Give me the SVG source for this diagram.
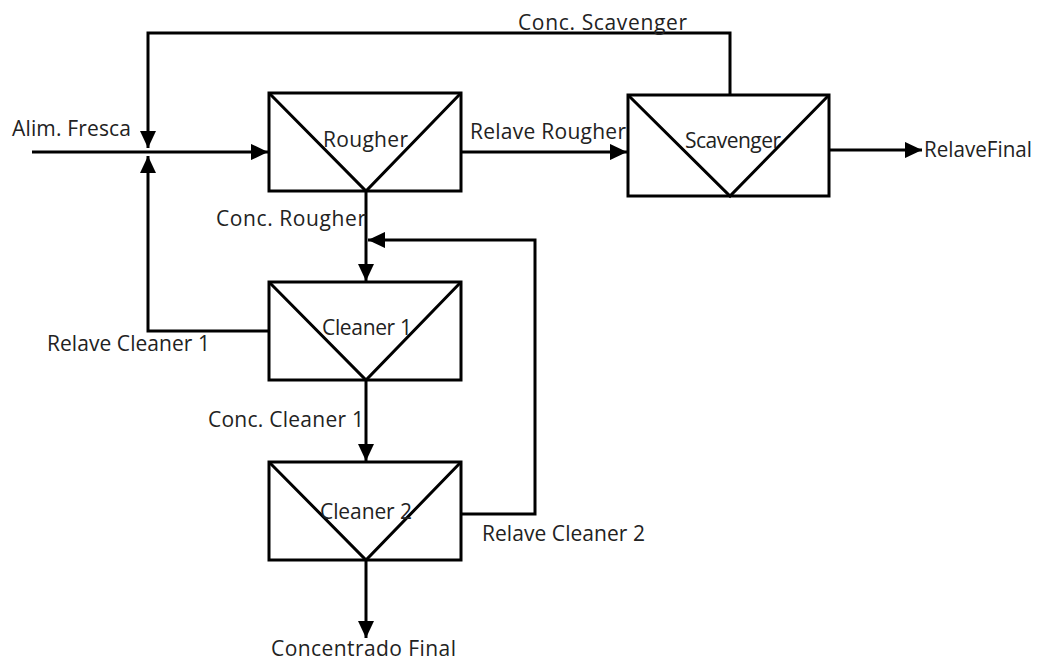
<svg xmlns="http://www.w3.org/2000/svg" width="1037" height="661" viewBox="0 0 1037 661">
<style>
.box{fill:none;stroke:#000;stroke-width:3}
.ln{fill:none;stroke:#000;stroke-width:3}
text{font-family:"Open Sans","Noto Sans",sans-serif;font-size:21px;fill:#222}
</style>
<defs>
<marker id="ah" viewBox="0 0 10 10" refX="10" refY="5" markerWidth="5.7" markerHeight="5.4" orient="auto" markerUnits="strokeWidth" preserveAspectRatio="none">
<path d="M0,0 L10,5 L0,10 Z" fill="#000"/>
</marker>
</defs>
<rect width="1037" height="661" fill="#fff"/>
<g id="connectors">
<path class="ln" d="M32,152 H268" marker-end="url(#ah)"/>
<path class="ln" d="M730,95 V33 H148 V148" marker-end="url(#ah)"/>
<path class="ln" d="M269,331 H148 V156" marker-end="url(#ah)"/>
<path class="ln" d="M461,152 H627" marker-end="url(#ah)"/>
<path class="ln" d="M829,150 H922" marker-end="url(#ah)"/>
<path class="ln" d="M366,191 V281" marker-end="url(#ah)"/>
<path class="ln" d="M461,514 H535 V240 H368" marker-end="url(#ah)"/>
<path class="ln" d="M366,380 V461" marker-end="url(#ah)"/>
<path class="ln" d="M366,560 V638" marker-end="url(#ah)"/>
</g>
<g id="rougher">
<rect class="box" x="269" y="93" width="192" height="98"/>
<path class="ln" d="M269,93 L366,191 L461,93"/>
<text x="323" y="147" textLength="85">Rougher</text>
</g>
<g id="scavenger">
<rect class="box" x="628" y="95" width="201" height="101"/>
<path class="ln" d="M628,95 L730,196 L829,95"/>
<text x="685" y="148" textLength="96">Scavenger</text>
</g>
<g id="cleaner1">
<rect class="box" x="269" y="282" width="192" height="98"/>
<path class="ln" d="M269,282 L366,380 L461,282"/>
<text x="322" y="335" textLength="90">Cleaner 1</text>
</g>
<g id="cleaner2">
<rect class="box" x="269" y="462" width="192" height="98"/>
<path class="ln" d="M269,462 L366,560 L461,462"/>
<text x="320" y="519" textLength="92">Cleaner 2</text>
</g>
<g id="labels">
<text x="12" y="136" textLength="119">Alim. Fresca</text>
<text x="518" y="30" textLength="169">Conc. Scavenger</text>
<text x="470" y="139" textLength="156">Relave Rougher</text>
<text x="924" y="157" font-size="19" textLength="108" lengthAdjust="spacingAndGlyphs">RelaveFinal</text>
<text x="216" y="226" textLength="150">Conc. Rougher</text>
<text x="47" y="351" textLength="163">Relave Cleaner 1</text>
<text x="208" y="427" textLength="156">Conc. Cleaner 1</text>
<text x="482" y="541" textLength="163">Relave Cleaner 2</text>
<text x="271" y="656" textLength="185">Concentrado Final</text>
</g>
</svg>
